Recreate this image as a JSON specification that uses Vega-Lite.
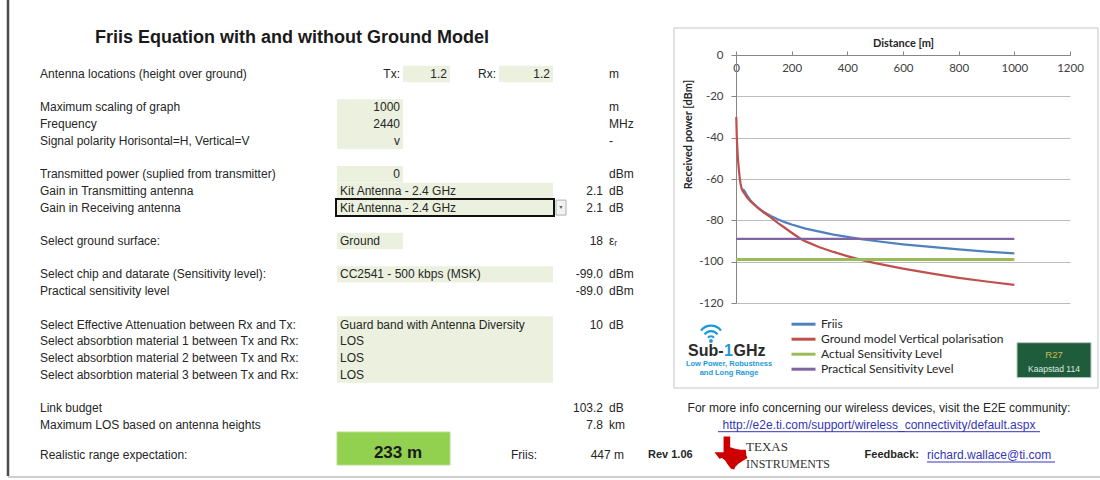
{
  "$schema": "https://vega.github.io/schema/vega-lite/v6.json",
  "width": 1100,
  "height": 480,
  "autosize": {"type": "none"},
  "padding": 0,
  "background": "white",
  "config": {"view": {"stroke": null}, "font": "Liberation Sans"},
  "datasets": {
    "curves": [
      {"series": "Friis", "d": 25, "p": -65},
      {"series": "Friis", "d": 30, "p": -65.8},
      {"series": "Friis", "d": 40, "p": -68},
      {"series": "Friis", "d": 50, "p": -70},
      {"series": "Friis", "d": 60, "p": -71.6},
      {"series": "Friis", "d": 80, "p": -74.1},
      {"series": "Friis", "d": 100, "p": -76},
      {"series": "Friis", "d": 125, "p": -77.9},
      {"series": "Friis", "d": 150, "p": -79.5},
      {"series": "Friis", "d": 175, "p": -80.9},
      {"series": "Friis", "d": 200, "p": -82},
      {"series": "Friis", "d": 250, "p": -84},
      {"series": "Friis", "d": 300, "p": -85.5},
      {"series": "Friis", "d": 350, "p": -86.9},
      {"series": "Friis", "d": 400, "p": -88},
      {"series": "Friis", "d": 450, "p": -89.1},
      {"series": "Friis", "d": 500, "p": -90},
      {"series": "Friis", "d": 600, "p": -91.6},
      {"series": "Friis", "d": 700, "p": -92.9},
      {"series": "Friis", "d": 800, "p": -94.1},
      {"series": "Friis", "d": 900, "p": -95.1},
      {"series": "Friis", "d": 1000, "p": -96},
      {"series": "Ground model Vertical polarisation", "d": 1, "p": -30},
      {"series": "Ground model Vertical polarisation", "d": 3, "p": -40},
      {"series": "Ground model Vertical polarisation", "d": 5, "p": -46},
      {"series": "Ground model Vertical polarisation", "d": 8, "p": -52},
      {"series": "Ground model Vertical polarisation", "d": 10, "p": -55},
      {"series": "Ground model Vertical polarisation", "d": 13, "p": -59},
      {"series": "Ground model Vertical polarisation", "d": 16, "p": -62},
      {"series": "Ground model Vertical polarisation", "d": 20, "p": -64.5},
      {"series": "Ground model Vertical polarisation", "d": 25, "p": -66},
      {"series": "Ground model Vertical polarisation", "d": 30, "p": -67},
      {"series": "Ground model Vertical polarisation", "d": 40, "p": -69},
      {"series": "Ground model Vertical polarisation", "d": 50, "p": -70.5},
      {"series": "Ground model Vertical polarisation", "d": 75, "p": -73.5},
      {"series": "Ground model Vertical polarisation", "d": 100, "p": -76.2},
      {"series": "Ground model Vertical polarisation", "d": 125, "p": -78.6},
      {"series": "Ground model Vertical polarisation", "d": 150, "p": -81.2},
      {"series": "Ground model Vertical polarisation", "d": 175, "p": -83.6},
      {"series": "Ground model Vertical polarisation", "d": 200, "p": -86},
      {"series": "Ground model Vertical polarisation", "d": 233, "p": -89},
      {"series": "Ground model Vertical polarisation", "d": 250, "p": -90.2},
      {"series": "Ground model Vertical polarisation", "d": 300, "p": -93},
      {"series": "Ground model Vertical polarisation", "d": 350, "p": -95.3},
      {"series": "Ground model Vertical polarisation", "d": 400, "p": -97.3},
      {"series": "Ground model Vertical polarisation", "d": 450, "p": -99.1},
      {"series": "Ground model Vertical polarisation", "d": 500, "p": -100.7},
      {"series": "Ground model Vertical polarisation", "d": 600, "p": -103.4},
      {"series": "Ground model Vertical polarisation", "d": 700, "p": -105.7},
      {"series": "Ground model Vertical polarisation", "d": 800, "p": -107.8},
      {"series": "Ground model Vertical polarisation", "d": 900, "p": -109.6},
      {"series": "Ground model Vertical polarisation", "d": 1000, "p": -111.2},
      {"series": "Actual Sensitivity Level", "d": 0, "p": -99},
      {"series": "Actual Sensitivity Level", "d": 1000, "p": -99},
      {"series": "Practical Sensitivity Level", "d": 0, "p": -89},
      {"series": "Practical Sensitivity Level", "d": 1000, "p": -89}
    ]
  },
  "layer": [
    {
      "encoding": {
        "x": {"field": "c", "type": "quantitative", "axis": null,
          "scale": {"domain": [0,1,2,3,4,5,6,7,8,9,10,11,12,13,14,15,16,17], "range": [8,37,337,403,450,499,540,553,567,606,627,645,674,715,879,922,1098,1100], "nice": false, "zero": false}},
        "y": {"field": "r", "type": "quantitative", "axis": null,
          "scale": {"domain": [0,2,4,25,26,27], "range": [0,38,74,424.7,455,476], "nice": false, "zero": false}}
      },
      "layer": [
        {
          "data": {"values": [{"object": "chart frame", "c": 12, "c2": 16, "r": 1, "r2": 23}]},
          "mark": {"type": "rect", "fill": null, "stroke": "#c4c4c4", "strokeWidth": 1, "yOffset": 9, "y2Offset": -3.3},
          "encoding": {"x2": {"field": "c2"}, "y2": {"field": "r2"}}
        },
        {
          "data": {"values": [
            {"cell": "D4", "c": 3, "c2": 4, "r": 4, "r2": 4},
            {"cell": "F4", "c": 5, "c2": 7, "r": 4, "r2": 4},
            {"cell": "C6:C8", "c": 2, "c2": 3, "r": 6, "r2": 8},
            {"cell": "C10", "c": 2, "c2": 3, "r": 10, "r2": 10},
            {"cell": "C11:F11", "c": 2, "c2": 7, "r": 11, "r2": 11},
            {"cell": "C14", "c": 2, "c2": 3, "r": 14, "r2": 14},
            {"cell": "C16:F16", "c": 2, "c2": 7, "r": 16, "r2": 16},
            {"cell": "C19:F22", "c": 2, "c2": 7, "r": 19, "r2": 22}
          ]},
          "mark": {"type": "rect", "fill": "#EBF1DE", "yOffset": -8.2, "y2Offset": 8.2},
          "encoding": {"x2": {"field": "c2"}, "y2": {"field": "r2"}}
        },
        {
          "data": {"values": [{"cell": "C12:F12", "c": 2, "c2": 7, "r": 12, "r2": 12}]},
          "mark": {"type": "rect", "fill": "#EBF1DE", "stroke": "#111111", "strokeWidth": 2, "xOffset": -1, "x2Offset": 1, "yOffset": -8.5, "y2Offset": 8.5},
          "encoding": {"x2": {"field": "c2"}, "y2": {"field": "r2"}}
        },
        {
          "data": {"values": [{"cell": "G12", "c": 7, "c2": 8, "r": 12, "r2": 12}]},
          "mark": {"type": "rect", "fill": "#f2f2f2", "stroke": "#b0b0b0", "strokeWidth": 1, "xOffset": 3, "x2Offset": -1, "yOffset": -7.5, "y2Offset": 7.5},
          "encoding": {"x2": {"field": "c2"}, "y2": {"field": "r2"}}
        },
        {
          "data": {"values": [{"cell": "G12", "c": 7, "r": 12}]},
          "mark": {"type": "point", "shape": "triangle-down", "size": 12, "filled": true, "fill": "#666666", "stroke": null, "xOffset": 8, "opacity": 1}
        },
        {
          "data": {"values": [{"cell": "C26:D26", "c": 2, "c2": 4, "r": 26, "r2": 26}]},
          "mark": {"type": "rect", "fill": "#92D050", "stroke": "#b7dd8f", "strokeWidth": 1, "yOffset": -23, "y2Offset": 10},
          "encoding": {"x2": {"field": "c2"}, "y2": {"field": "r2"}}
        },
        {
          "data": {"values": [{"edge": "left", "c": 0, "c2": 0, "r": 0, "r2": 27}]},
          "mark": {"type": "rule", "stroke": "#4a4a4a", "strokeWidth": 2.5},
          "encoding": {"x2": {"field": "c2"}, "y2": {"field": "r2"}}
        },
        {
          "data": {"values": [{"edge": "bottom", "c": 0, "c2": 17, "r": 27, "r2": 27}]},
          "mark": {"type": "rule", "stroke": "#cfcfcf", "strokeWidth": 2, "yOffset": 1, "y2Offset": 1},
          "encoding": {"x2": {"field": "c2"}, "y2": {"field": "r2"}}
        },
        {
          "data": {"values": [{"c": 1, "r": 2, "t": "Friis Equation with and without Ground Model"}]},
          "mark": {"type": "text", "align": "left", "baseline": "middle", "dx": 58, "fontSize": 18, "fontWeight": "bold", "fill": "#1a1a1a"},
          "encoding": {"text": {"field": "t"}}
        },
        {
          "data": {"values": [
            {"r": 4, "c": 1, "t": "Antenna locations (height over ground)"},
            {"r": 6, "c": 1, "t": "Maximum scaling of graph"},
            {"r": 7, "c": 1, "t": "Frequency"},
            {"r": 8, "c": 1, "t": "Signal polarity Horisontal=H, Vertical=V"},
            {"r": 10, "c": 1, "t": "Transmitted power (suplied from transmitter)"},
            {"r": 11, "c": 1, "t": "Gain in Transmitting antenna"},
            {"r": 12, "c": 1, "t": "Gain in Receiving antenna"},
            {"r": 14, "c": 1, "t": "Select ground surface:"},
            {"r": 16, "c": 1, "t": "Select chip and datarate (Sensitivity level):"},
            {"r": 17, "c": 1, "t": "Practical sensitivity level"},
            {"r": 19, "c": 1, "t": "Select Effective Attenuation between Rx and Tx:"},
            {"r": 20, "c": 1, "t": "Select absorbtion material 1 between Tx and Rx:"},
            {"r": 21, "c": 1, "t": "Select absorbtion material 2 between Tx and Rx:"},
            {"r": 22, "c": 1, "t": "Select absorbtion material 3 between Tx and Rx:"},
            {"r": 24, "c": 1, "t": "Link budget"},
            {"r": 25, "c": 1, "t": "Maximum LOS based on antenna heights"},
            {"r": 26, "c": 1, "t": "Realistic range expectation:"},
            {"r": 11, "c": 2, "t": "Kit Antenna - 2.4 GHz"},
            {"r": 12, "c": 2, "t": "Kit Antenna - 2.4 GHz"},
            {"r": 14, "c": 2, "t": "Ground"},
            {"r": 16, "c": 2, "t": "CC2541 - 500 kbps (MSK)"},
            {"r": 19, "c": 2, "t": "Guard band with Antenna Diversity"},
            {"r": 20, "c": 2, "t": "LOS"},
            {"r": 21, "c": 2, "t": "LOS"},
            {"r": 22, "c": 2, "t": "LOS"},
            {"r": 4, "c": 9, "t": "m"},
            {"r": 6, "c": 9, "t": "m"},
            {"r": 7, "c": 9, "t": "MHz"},
            {"r": 8, "c": 9, "t": "-"},
            {"r": 10, "c": 9, "t": "dBm"},
            {"r": 11, "c": 9, "t": "dB"},
            {"r": 12, "c": 9, "t": "dB"},
            {"r": 14, "c": 9, "t": "εᵣ"},
            {"r": 16, "c": 9, "t": "dBm"},
            {"r": 17, "c": 9, "t": "dBm"},
            {"r": 19, "c": 9, "t": "dB"},
            {"r": 24, "c": 9, "t": "dB"},
            {"r": 25, "c": 9, "t": "km"}
          ]},
          "mark": {"type": "text", "align": "left", "baseline": "middle", "dx": 3, "fontSize": 12, "fill": "#262626"},
          "encoding": {"text": {"field": "t"}}
        },
        {
          "data": {"values": [
            {"r": 4, "c": 3, "t": "Tx:"},
            {"r": 4, "c": 4, "t": "1.2"},
            {"r": 4, "c": 5, "t": "Rx:"},
            {"r": 4, "c": 7, "t": "1.2"},
            {"r": 6, "c": 3, "t": "1000"},
            {"r": 7, "c": 3, "t": "2440"},
            {"r": 8, "c": 3, "t": "v"},
            {"r": 10, "c": 3, "t": "0"},
            {"r": 11, "c": 9, "t": "2.1"},
            {"r": 12, "c": 9, "t": "2.1"},
            {"r": 14, "c": 9, "t": "18"},
            {"r": 16, "c": 9, "t": "-99.0"},
            {"r": 17, "c": 9, "t": "-89.0"},
            {"r": 19, "c": 9, "t": "10"},
            {"r": 24, "c": 9, "t": "103.2"},
            {"r": 25, "c": 9, "t": "7.8"},
            {"r": 26, "c": 6, "t": "Friis:"},
            {"r": 26, "c": 10, "t": "447 m"}
          ]},
          "mark": {"type": "text", "align": "right", "baseline": "middle", "dx": -3, "fontSize": 12, "fill": "#262626"},
          "encoding": {"text": {"field": "t"}}
        },
        {
          "data": {"values": [{"r": 26, "c": 3, "t": "233 m"}]},
          "mark": {"type": "text", "align": "center", "baseline": "middle", "dx": -5, "dy": -2, "fontSize": 17, "fontWeight": "bold", "fill": "#1a1a1a"},
          "encoding": {"text": {"field": "t"}}
        },
        {
          "data": {"values": [{"r": 26, "c": 11, "t": "Rev 1.06"}]},
          "mark": {"type": "text", "align": "left", "baseline": "middle", "dx": 3, "fontSize": 11, "fontWeight": "bold", "fill": "#262626"},
          "encoding": {"text": {"field": "t"}}
        },
        {
          "data": {"values": [{"r": 26, "c": 15, "t": "Feedback:"}]},
          "mark": {"type": "text", "align": "right", "baseline": "middle", "dx": -3, "fontSize": 11, "fontWeight": "bold", "fill": "#262626"},
          "encoding": {"text": {"field": "t"}}
        },
        {
          "data": {"values": [{"r": 24, "c": 14, "t": "For more info concerning our wireless devices, visit the E2E community:"}]},
          "mark": {"type": "text", "align": "center", "baseline": "middle", "fontSize": 12, "fill": "#262626"},
          "encoding": {"text": {"field": "t"}}
        },
        {
          "data": {"values": [{"r": 25, "c": 14, "t": "http://e2e.ti.com/support/wireless_connectivity/default.aspx"}]},
          "mark": {"type": "text", "align": "center", "baseline": "middle", "fontSize": 12, "fill": "#3535b8"},
          "encoding": {"text": {"field": "t"}}
        },
        {
          "data": {"values": [{"r": 26, "c": 15, "t": "richard.wallace@ti.com"}]},
          "mark": {"type": "text", "align": "left", "baseline": "middle", "dx": 5, "fontSize": 12, "fill": "#3535b8"},
          "encoding": {"text": {"field": "t"}}
        },
        {
          "data": {"values": [{"link": "e2e", "c": 14, "c2": 14, "r": 25, "r2": 25}]},
          "mark": {"type": "rule", "stroke": "#3535b8", "strokeWidth": 1, "xOffset": -161, "x2Offset": 161, "yOffset": 7, "y2Offset": 7},
          "encoding": {"x2": {"field": "c2"}, "y2": {"field": "r2"}}
        },
        {
          "data": {"values": [{"link": "mail", "c": 15, "c2": 15, "r": 26, "r2": 26}]},
          "mark": {"type": "rule", "stroke": "#3535b8", "strokeWidth": 1, "xOffset": 5, "x2Offset": 133, "yOffset": 7, "y2Offset": 7},
          "encoding": {"x2": {"field": "c2"}, "y2": {"field": "r2"}}
        },
        {
          "data": {"values": [{"logo": "Texas", "c": 13, "r": 26}]},
          "mark": {"type": "point", "filled": true, "fill": "#cc0000", "stroke": null, "opacity": 1, "size": 1089, "xOffset": 16, "yOffset": -2,
            "shape": "M -0.45 -1 L -0.05 -1 L -0.05 -0.35 L 0.3 -0.25 L 0.6 -0.2 L 0.9 -0.2 L 0.93 0.15 L 1 0.3 L 0.75 0.45 L 0.45 0.65 L 0.25 0.85 L 0.2 1 L 0 0.95 L -0.2 0.7 L -0.35 0.45 L -0.55 0.3 L -0.7 0.35 L -0.85 0.15 L -1 -0.05 L -0.45 -0.05 Z"}
        },
        {
          "data": {"values": [{"c": 13, "r": 26, "t": "TEXAS"}]},
          "mark": {"type": "text", "align": "left", "baseline": "middle", "dx": 31, "dy": -8, "font": "Liberation Serif", "fontSize": 13, "fill": "#333333"},
          "encoding": {"text": {"field": "t"}}
        },
        {
          "data": {"values": [{"c": 13, "r": 26, "t": "INSTRUMENTS"}]},
          "mark": {"type": "text", "align": "left", "baseline": "middle", "dx": 31, "dy": 9, "font": "Liberation Serif", "fontSize": 12, "fill": "#333333"},
          "encoding": {"text": {"field": "t"}}
        },
        {
          "data": {"values": [{"logo": "wifi", "c": 12, "r": 20}]},
          "mark": {"type": "point", "filled": false, "stroke": "#1a9ad9", "strokeWidth": 2.2, "opacity": 1, "size": 400, "xOffset": 37, "yOffset": -9,
            "shape": "M -1 -0.15 A 1.25 1.25 0 0 1 1 -0.15 M -0.65 0.22 A 0.8 0.8 0 0 1 0.65 0.22 M -0.3 0.55 A 0.38 0.38 0 0 1 0.3 0.55 M -0.08 0.88 A 0.08 0.08 0 1 0 0.08 0.88 A 0.08 0.08 0 1 0 -0.08 0.88"}
        },
        {
          "data": {"values": [{"c": 12, "r": 21, "t": "Sub-"}]},
          "mark": {"type": "text", "align": "left", "baseline": "middle", "dx": 14, "dy": -7, "fontSize": 16, "fontWeight": "bold", "fill": "#2b2b2b"},
          "encoding": {"text": {"field": "t"}}
        },
        {
          "data": {"values": [{"c": 12, "r": 21, "t": "1"}]},
          "mark": {"type": "text", "align": "left", "baseline": "middle", "dx": 50, "dy": -7, "fontSize": 16, "fontWeight": "bold", "fill": "#1a9ad9"},
          "encoding": {"text": {"field": "t"}}
        },
        {
          "data": {"values": [{"c": 12, "r": 21, "t": "GHz"}]},
          "mark": {"type": "text", "align": "left", "baseline": "middle", "dx": 59.5, "dy": -7, "fontSize": 16, "fontWeight": "bold", "fill": "#2b2b2b"},
          "encoding": {"text": {"field": "t"}}
        },
        {
          "data": {"values": [{"c": 12, "r": 21, "t": "Low Power, Robustness\nand Long Range"}]},
          "mark": {"type": "text", "align": "center", "baseline": "top", "dx": 55, "dy": 2, "fontSize": 7.5, "fontWeight": "bold", "fill": "#1a9ad9", "lineBreak": "\n", "lineHeight": 9},
          "encoding": {"text": {"field": "t"}}
        },
        {
          "data": {"values": [{"sign": "R27", "c": 16, "c2": 16, "r": 20, "r2": 22}]},
          "mark": {"type": "rect", "fill": "#1f5c3c", "stroke": "#b9c7be", "strokeWidth": 1, "xOffset": -81, "x2Offset": -7, "yOffset": 1.5, "y2Offset": 3},
          "encoding": {"x2": {"field": "c2"}, "y2": {"field": "r2"}}
        },
        {
          "data": {"values": [{"c": 16, "r": 21, "t": "R27"}]},
          "mark": {"type": "text", "align": "center", "baseline": "middle", "dx": -44, "dy": -3, "fontSize": 9.5, "fill": "#cbb955"},
          "encoding": {"text": {"field": "t"}}
        },
        {
          "data": {"values": [{"c": 16, "r": 22, "t": "Kaapstad  114"}]},
          "mark": {"type": "text", "align": "center", "baseline": "middle", "dx": -44, "dy": -6, "fontSize": 8.5, "fill": "#dfe9e2"},
          "encoding": {"text": {"field": "t"}}
        }
      ]
    },
    {
      "data": {"name": "curves"},
      "encoding": {
        "x": {"field": "d", "type": "quantitative",
          "scale": {"domain": [0, 1200], "range": [736, 1070], "nice": false, "zero": false},
          "axis": {"orient": "top", "offset": -55, "values": [0,200,400,600,800,1000,1200], "format": "d", "grid": false,
            "title": "Distance [m]", "titleFont": "Lato", "titleFontSize": 11, "titleFontWeight": "bold", "titleColor": "#262626", "titleY": -12, "titleBaseline": "middle",
            "labelFont": "Lato", "labelFontSize": 11.5, "labelColor": "#404040", "labelBaseline": "top", "labelPadding": -11, "labelFlush": false, "labelOverlap": false,
            "tickSize": 4, "tickColor": "#868686", "domainColor": "#868686"}},
        "y": {"field": "p", "type": "quantitative",
          "scale": {"domain": [-120, 0], "range": [303, 55], "nice": false, "zero": false},
          "axis": {"orient": "left", "offset": -736, "values": [0,-20,-40,-60,-80,-100,-120], "format": "d", "grid": true, "gridColor": "#bdbdbd", "gridWidth": 1,
            "title": "Received power [dBm]", "titleFont": "Lato", "titleFontSize": 11, "titleFontWeight": "bold", "titleColor": "#262626", "titleX": -48, "titleY": 134, "titleBaseline": "middle", "titleAlign": "center", "titleAngle": -90,
            "labelFont": "Lato", "labelFontSize": 11.5, "labelColor": "#404040", "labelPadding": 8, "labelExpr": "replace(datum.label, '−', '-')",
            "tickSize": 5, "tickColor": "#868686", "domainColor": "#868686"}},
        "color": {"field": "series", "type": "nominal",
          "scale": {"domain": ["Friis", "Ground model Vertical polarisation", "Actual Sensitivity Level", "Practical Sensitivity Level"], "range": ["#4F81BD", "#C0504D", "#9BBB59", "#8064A2"]},
          "legend": {"orient": "none", "legendX": 794.5, "legendY": 315.2, "title": null, "direction": "vertical", "symbolType": "M -1.6 0 L 1.6 0", "symbolSize": 225, "symbolStrokeWidth": 3,
            "labelFont": "Lato", "labelFontSize": 12, "labelColor": "#262626", "labelOffset": 8.5, "labelLimit": 300, "rowPadding": 0, "padding": 0, "offset": 0}}
      },
      "layer": [
        {"transform": [{"filter": "datum.series === 'Friis'"}], "mark": {"type": "line", "strokeWidth": 2.25}},
        {"transform": [{"filter": "datum.series === 'Ground model Vertical polarisation'"}], "mark": {"type": "line", "strokeWidth": 2.25}},
        {"transform": [{"filter": "datum.series === 'Actual Sensitivity Level'"}], "mark": {"type": "line", "strokeWidth": 3}},
        {"transform": [{"filter": "datum.series === 'Practical Sensitivity Level'"}], "mark": {"type": "line", "strokeWidth": 2.25}}
      ]
    }
  ],
  "resolve": {"scale": {"x": "independent", "y": "independent", "color": "independent"}, "axis": {"x": "independent", "y": "independent"}}
}
